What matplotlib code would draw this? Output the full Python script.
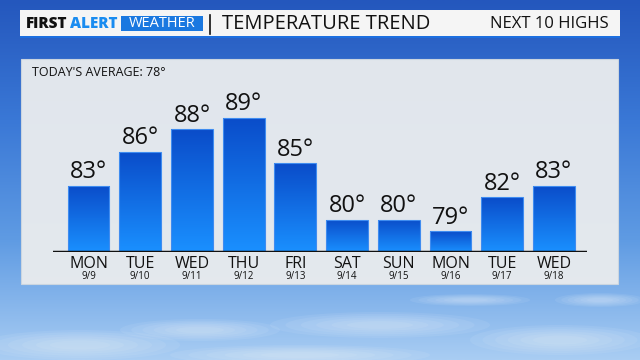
import numpy as np
import matplotlib.pyplot as plt
from matplotlib.patches import Rectangle, Ellipse
from matplotlib.colors import LinearSegmentedColormap

days = ['MON', 'TUE', 'WED', 'THU', 'FRI', 'SAT', 'SUN', 'MON', 'TUE', 'WED']
dates = ['9/9', '9/10', '9/11', '9/12', '9/13', '9/14', '9/15', '9/16', '9/17', '9/18']
highs = [83, 86, 88, 89, 85, 80, 80, 79, 82, 83]
average = 78

plt.rcParams['font.family'] = ['Open Sans', 'DejaVu Sans']

fig = plt.figure(figsize=(6.4, 3.6), dpi=100)

# background axes in pixel coordinates
bg = fig.add_axes([0, 0, 1, 1])
bg.set_xlim(0, 640)
bg.set_ylim(360, 0)
bg.axis('off')

# sky gradient
sky = LinearSegmentedColormap.from_list('sky', ['#2457bd', '#3a78d6', '#5f9be3', '#a9cdf3'])
grad = np.linspace(0, 1, 256).reshape(-1, 1)
bg.imshow(grad, cmap=sky, extent=(0, 640, 360, 0), aspect='auto', zorder=0)

# soft clouds near the bottom
clouds = [(80, 345, 200, 30), (200, 330, 160, 22), (380, 325, 220, 26), (560, 340, 180, 30),
          (300, 355, 260, 20), (470, 300, 120, 12), (600, 300, 90, 14)]
for cx, cy, w, h in clouds:
    for k in range(6):
        s = 1 - k * 0.14
        bg.add_patch(Ellipse((cx, cy), w * s, h * s, color='white', alpha=0.07, lw=0, zorder=1))

# title bar
bg.add_patch(Rectangle((20, 10), 600, 27, facecolor='#f5f5f5', edgecolor='none', zorder=2))
bg.add_patch(Rectangle((20, 36), 600, 2, facecolor='#1c6fe0', edgecolor='none', zorder=2))
bg.text(26, 24, 'FIRST', fontsize=11, fontweight='heavy', color='#111111',
        va='center', ha='left', zorder=3)
bg.text(70, 24, 'ALERT', fontsize=11, fontweight='heavy', color='#1a8cf0',
        va='center', ha='left', zorder=3)
bg.add_patch(Rectangle((121, 16), 82, 15, facecolor='#1a78e0', edgecolor='none', zorder=2))
bg.text(162, 23.5, 'WEATHER', fontsize=10.5, color='white', va='center', ha='center', zorder=3)
bg.plot([210, 210], [15, 34], color='#111111', lw=1.2, zorder=3)
bg.text(222, 24, 'TEMPERATURE TREND', fontsize=14.5, color='#111111', va='center', ha='left', zorder=3)
bg.text(609, 24, 'NEXT 10 HIGHS', fontsize=12, color='#111111', va='center', ha='right', zorder=3)

# chart panel
bg.add_patch(Rectangle((21, 59), 597, 225, facecolor='#e8ebee', edgecolor='#cdd6e0',
                       lw=0.8, alpha=0.97, zorder=2))
bg.text(32, 72, "TODAY'S AVERAGE: %d°" % average, fontsize=9, color='#111111',
        va='center', ha='left', zorder=3)

# bar chart axes
ax = fig.add_axes([53 / 640, 108 / 360, 534 / 640, 190 / 360])
ax.patch.set_alpha(0)
x = np.arange(len(highs))
for s in ax.spines.values():
    s.set_visible(False)
ax.set_xticks([])
ax.set_yticks([])

bar_cmap = LinearSegmentedColormap.from_list('bar', ['#0a4cc9', '#1a90ff'])
bars = ax.bar(x, highs, width=0.807, bottom=0, color='none', edgecolor='#3f8cf0', lw=0.8, zorder=3)
ylo = 77.15
for b, v in zip(bars, highs):
    x0 = b.get_x()
    im = ax.imshow(grad, cmap=bar_cmap, extent=(x0, x0 + b.get_width(), ylo, v),
                   aspect='auto', zorder=2)
    im.set_clip_path(b)
    ax.annotate('%d°' % v, xy=(b.get_x() + b.get_width() / 2, v), xytext=(0, 1),
                textcoords='offset points', ha='center', va='bottom', fontsize=17, color='#111111')

ax.set_xlim(-0.687, 9.64)
ax.set_ylim(ylo, ylo + 190 / 11.33)
ax.axhline(ylo, color='#111111', lw=2.5, zorder=4)

for i in x:
    ax.annotate(days[i], xy=(i, 0), xycoords=('data', 'axes fraction'), xytext=(0, -8.6),
                textcoords='offset points', ha='center', va='center', fontsize=11.5, color='#111111')
    ax.annotate(dates[i], xy=(i, 0), xycoords=('data', 'axes fraction'), xytext=(0, -17.3),
                textcoords='offset points', ha='center', va='center', fontsize=7, color='#111111')

plt.savefig('out.png', dpi=100)
